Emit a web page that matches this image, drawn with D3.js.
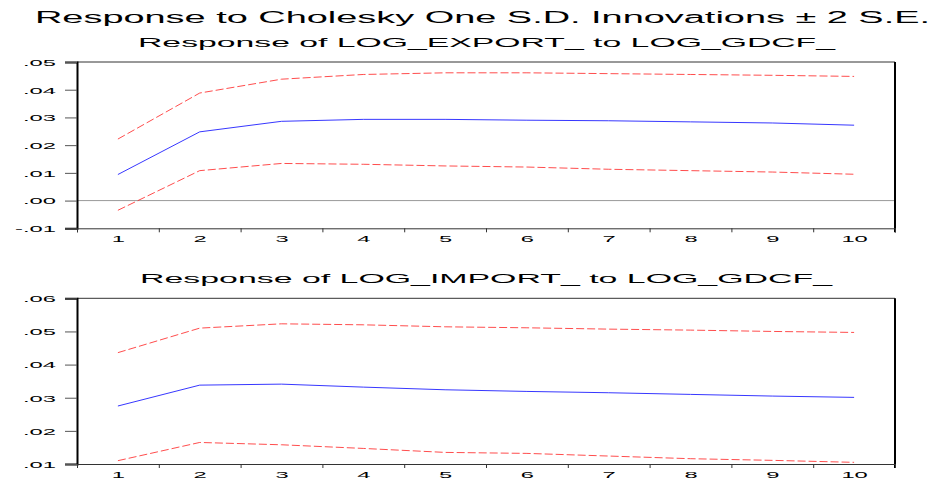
<!DOCTYPE html>
<html>
<head>
<meta charset="utf-8">
<script src="https://cdn.jsdelivr.net/npm/d3@7"></script>
<style>
  html, body { margin: 0; padding: 0; background: #fff; }
  svg { display: block; }
  text { font-family: "Liberation Sans", Arial, sans-serif; fill: #000; }
</style>
</head>
<body>
<svg id="chart" width="939" height="481"></svg>
<script>
// ---- data ----
const periods = [1, 2, 3, 4, 5, 6, 7, 8, 9, 10];

const exportResponse = [0.0094, 0.0248, 0.0286, 0.0293, 0.0293, 0.0290, 0.0288, 0.0284, 0.0280, 0.0272];
const exportUpper    = [0.0222, 0.0388, 0.0438, 0.0455, 0.0461, 0.0461, 0.0458, 0.0455, 0.0452, 0.0448];
const exportLower    = [-0.0035, 0.0108, 0.0134, 0.0131, 0.0125, 0.0121, 0.0113, 0.0108, 0.0103, 0.0095];

const importResponse = [0.0275, 0.0338, 0.0341, 0.0332, 0.0324, 0.0319, 0.0315, 0.0310, 0.0305, 0.0301];
const importUpper    = [0.0436, 0.0510, 0.0523, 0.0520, 0.0514, 0.0511, 0.0507, 0.0504, 0.0500, 0.0497];
const importLower    = [0.0110, 0.0165, 0.0158, 0.0147, 0.0135, 0.0132, 0.0124, 0.0116, 0.0111, 0.0105];

const exportTicks = [-0.01, 0.00, 0.01, 0.02, 0.03, 0.04, 0.05];
const importTicks = [0.01, 0.02, 0.03, 0.04, 0.05, 0.06];

const mainTitle = "Response to Cholesky One S.D. Innovations \u00b1 2 S.E.";
const panelTitles = ["Response of LOG_EXPORT_ to LOG_GDCF_", "Response of LOG_IMPORT_ to LOG_GDCF_"];

// ---- drawing ----
const svg = d3.select("#chart");
const SX = 2.5; // horizontal stretch of tick labels

const fmt = v => {
  let s = d3.format(".2f")(Math.abs(v) < 1e-9 ? 0 : v);
  s = s.replace("\u2212", "-");
  return s.replace(/^(-?)0\./, "$1.");
};

svg.append("text")
  .attr("x", 35).attr("y", 23.3)
  .attr("font-size", 16)
  .attr("textLength", 895)
  .attr("lengthAdjust", "spacingAndGlyphs")
  .text(mainTitle);

function panel(cfg) {
  const { top, bottom, domain, ticks, resp, upper, lower, title, titleY, titleX, titleLen, zero } = cfg;
  const left = 77, right = 895;
  const x = d3.scaleLinear().domain([0.5, 10.5]).range([left, right]);
  const y = d3.scaleLinear().domain(domain).range([bottom, top]);
  const g = svg.append("g");

  g.append("text")
    .attr("x", titleX).attr("y", titleY)
    .attr("font-size", 12.5)
    .attr("textLength", titleLen)
    .attr("lengthAdjust", "spacingAndGlyphs")
    .text(title);

  if (zero) {
    g.append("line")
      .attr("x1", left).attr("x2", right)
      .attr("y1", y(0)).attr("y2", y(0))
      .attr("stroke", "#9a9a9a").attr("stroke-width", 1);
  }

  const line = d3.line().x((d, i) => x(periods[i])).y(d => y(d));
  g.append("path").datum(upper).attr("d", line)
    .attr("fill", "none").attr("stroke", "#ff2020").attr("stroke-width", 0.8)
    .attr("stroke-dasharray", "8,3");
  g.append("path").datum(lower).attr("d", line)
    .attr("fill", "none").attr("stroke", "#ff2020").attr("stroke-width", 0.8)
    .attr("stroke-dasharray", "8,3");
  g.append("path").datum(resp).attr("d", line)
    .attr("fill", "none").attr("stroke", "#2020ff").attr("stroke-width", 0.9);

  g.append("line").attr("x1", left).attr("x2", right).attr("y1", top).attr("y2", top)
    .attr("stroke", "#333").attr("stroke-width", 1);
  g.append("line").attr("x1", right).attr("x2", right).attr("y1", top).attr("y2", bottom + 4)
    .attr("stroke", "#000").attr("stroke-width", 2);

  const ya = g.append("g").attr("transform", `translate(${left},0)`)
    .call(d3.axisLeft(y).tickValues(ticks).tickSize(12).tickFormat(fmt));
  ya.select(".domain").attr("stroke", "#000").attr("stroke-width", 2);
  ya.selectAll(".tick line").attr("stroke", "#555");
  ya.selectAll(".tick text")
    .attr("x", null).attr("dy", null)
    .attr("font-family", null)
    .attr("font-size", 9.5)
    .attr("text-anchor", "end")
    .attr("transform", `translate(-21,3.4) scale(${SX},1)`);

  const xa = g.append("g").attr("transform", `translate(0,${bottom})`)
    .call(d3.axisBottom(x).tickValues(d3.range(0.5, 11, 1)).tickSize(4).tickFormat(""));
  xa.select(".domain").attr("stroke", "#333").attr("stroke-width", 1);
  xa.selectAll(".tick line").attr("stroke", "#333");

  const xl = g.append("g").attr("transform", `translate(0,${bottom})`)
    .call(d3.axisBottom(x).tickValues(periods).tickSize(0).tickFormat(d3.format("d")));
  xl.select(".domain").remove();
  xl.selectAll(".tick text")
    .attr("y", null).attr("dy", null)
    .attr("font-family", null)
    .attr("font-size", 9.5)
    .attr("text-anchor", "middle")
    .attr("transform", `translate(0,14) scale(${SX},1)`);
}

panel({
  top: 62, bottom: 228.3, domain: [-0.01, 0.05], ticks: exportTicks,
  resp: exportResponse, upper: exportUpper, lower: exportLower,
  title: panelTitles[0], titleX: 138, titleY: 46.7, titleLen: 697, zero: true
});

panel({
  top: 298.3, bottom: 464, domain: [0.01, 0.06], ticks: importTicks,
  resp: importResponse, upper: importUpper, lower: importLower,
  title: panelTitles[1], titleX: 140, titleY: 282.7, titleLen: 692, zero: false
});
</script>
</body>
</html>
